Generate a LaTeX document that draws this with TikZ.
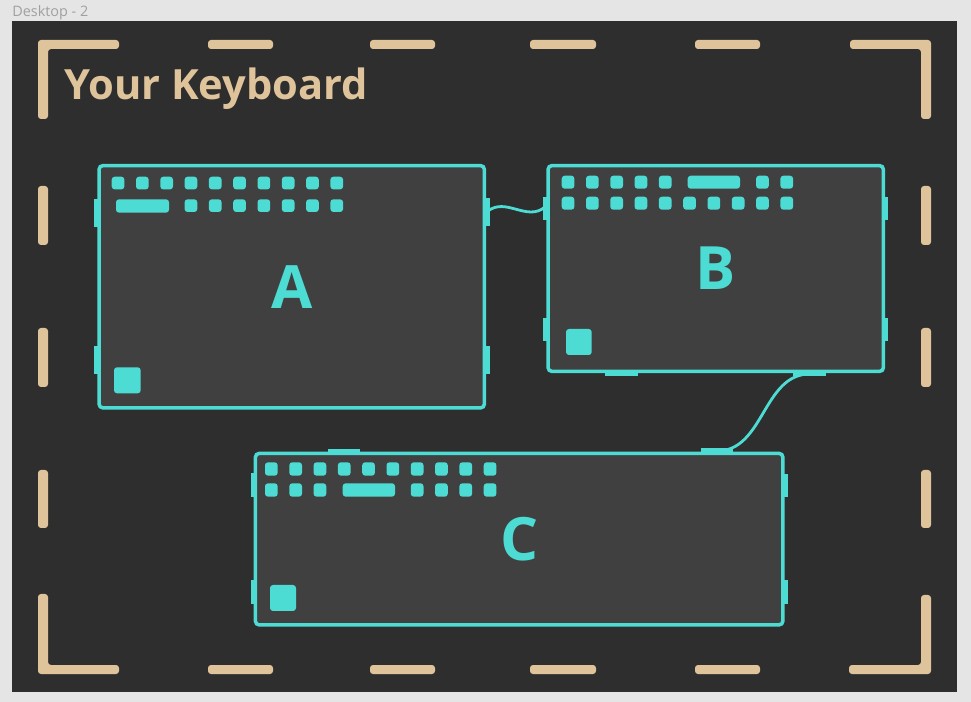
\documentclass[tikz,border=0pt]{standalone}
\usepackage{fontspec}
\setmainfont{Open Sans}
\usepackage{xcolor}

\definecolor{deskgrey}{RGB}{229,229,229}
\definecolor{framebg}{RGB}{46,46,46}
\definecolor{boxbg}{RGB}{64,64,64}
\definecolor{keyteal}{RGB}{77,220,212}
\definecolor{sand}{RGB}{223,196,155}
\definecolor{labelgrey}{RGB}{160,160,160}

\begin{document}
\begin{tikzpicture}[x=0.02cm, y=-0.02cm,
  kbbox/.style={draw=keyteal, fill=boxbg, line width=2pt, rounded corners=2.3pt, text=keyteal, font=\fontsize{34}{34}\selectfont\bfseries},
  keycap/.style={fill=keyteal, rounded corners=1.7pt},
  tab/.style={fill=keyteal},
  framebar/.style={fill=sand, rounded corners=1.7pt},
  cable/.style={draw=keyteal, line width=1.6pt}]

\useasboundingbox (0,0) rectangle (971,702);
\fill[deskgrey] (0,0) rectangle (971,702);
\node[anchor=base west, inner sep=0, text=labelgrey, font=\fontsize{8.2}{9}\selectfont] (desk) at (12,17) {Desktop - 2};
\fill[framebg] (12,21) rectangle (957,692);

%frame corners
\fill[framebar] (38,40) -- (119,40) -- (119,49) -- (48,49) -- (48,119) -- (38,119) -- cycle;
\fill[framebar] (931,40) -- (850,40) -- (850,49) -- (921,49) -- (921,119) -- (931,119) -- cycle;
\fill[framebar] (38,674) -- (119,674) -- (119,665) -- (48,665) -- (48,594) -- (38,594) -- cycle;
\fill[framebar] (931,674) -- (849,674) -- (849,665) -- (921,665) -- (921,595) -- (931,595) -- cycle;

%frame dashes
\foreach \a/\b in {208/273, 370/435, 530/596, 695/760} {
  \fill[framebar] (\a,40) rectangle (\b,49);
  \fill[framebar] (\a,665) rectangle (\b,674);
}
\foreach \a/\b in {186/245, 328/387, 470/528} {
  \fill[framebar] (38,\a) rectangle (48,\b);
  \fill[framebar] (921,\a) rectangle (931,\b);
}

%title
\node[anchor=base west, inner sep=0, text=sand, font=\fontsize{23.7}{24}\selectfont\bfseries] (title) at (64,100) {Your Keyboard};

%keyboards
\node[kbbox, minimum width=7.71cm, minimum height=4.85cm] (A) at (291.75,286.75) {A};
\node[kbbox, minimum width=6.71cm, minimum height=4.12cm] (B) at (715.75,268.5) {B};
\node[kbbox, minimum width=10.554cm, minimum height=3.434cm] (C) at (519.15,539.15) {C};

%side tabs
\fill[tab] (94,199) rectangle (98,227); \fill[tab] (94,346) rectangle (98,374);
\fill[tab] (485,198) rectangle (490,226); \fill[tab] (485,346) rectangle (490,374);
\fill[tab] (543,197) rectangle (547,220); \fill[tab] (543,318) rectangle (547,341);
\fill[tab] (884,197) rectangle (888,220); \fill[tab] (884,318) rectangle (888,341);
\fill[tab] (605,372) rectangle (638,376.5); \fill[tab] (793,372) rectangle (826,376.5);
\fill[tab] (328,449) rectangle (360,454); \fill[tab] (701,448.5) rectangle (733,454);
\fill[tab] (251,473) rectangle (255,497); \fill[tab] (251,580) rectangle (255,604);
\fill[tab] (783,474) rectangle (787.5,497); \fill[tab] (783,580) rectangle (787.5,604);

%keys of A
\foreach \x in {0,...,9} \fill[keycap] (111.7+24.3*\x,176.7) rectangle ++(12.7,12.7);
\fill[keycap] (116,199.3) rectangle (169,212.7);
\foreach \x in {3,...,9} \fill[keycap] (111.7+24.3*\x,199.3) rectangle ++(12.7,12.7);
\fill[keycap] (114,367.3) rectangle (140.7,393.3);

%keys of B
\foreach \x in {0,...,4,8,9} \fill[keycap] (561.7+24.3*\x,175.7) rectangle ++(12.7,13);
\fill[keycap] (687.7,175.7) rectangle (740,188.7);
\foreach \x in {0,...,9} \fill[keycap] (561.7+24.3*\x,196.7) rectangle ++(12.7,13);
\fill[keycap] (566,329) rectangle (591.7,355);

%keys of C
\foreach \x in {0,...,9} \fill[keycap] (265+24.3*\x,462.3) rectangle ++(12.7,13.4);
\foreach \x in {0,1,2,6,7,8,9} \fill[keycap] (265+24.3*\x,483.3) rectangle ++(12.7,13.4);
\fill[keycap] (342.7,483.3) rectangle (395,496.7);
\fill[keycap] (270,585) rectangle (296,611);

%cable coordinates
\coordinate (aport) at (488,211); \coordinate (bportl) at (545,207);
\coordinate (bportb) at (810,374); \coordinate (cport) at (717,451);

%cables
\draw[cable] (aport) .. controls (506,197) and (527,222) .. (bportl);
\draw[cable] (bportb) to [out=180, in=0] (cport);

\end{tikzpicture}
\end{document}
